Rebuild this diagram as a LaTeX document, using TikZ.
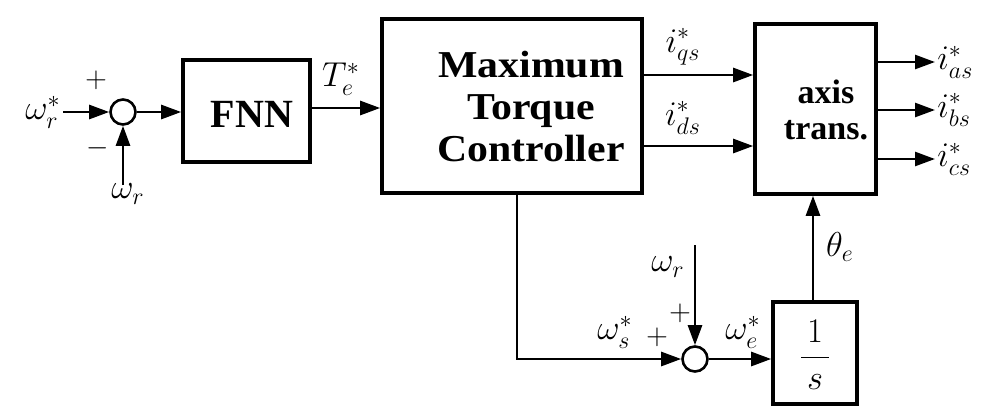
\documentclass[tikz,border=0pt]{standalone}
\usepackage{amsmath}
\usepackage{fontspec}
\setmainfont{Liberation Serif}
\usetikzlibrary{arrows.meta,positioning,calc}
\tikzset{
  blk/.style={draw,line width=1.8pt,inner sep=0pt},
  summ/.style={circle,draw,line width=1.3pt,minimum size=12.5pt,inner sep=0pt},
  sig/.style={line width=1.3pt,-{Triangle[length=10pt,width=7pt]}},
  lab/.style={inner sep=1pt,font=\LARGE},
  sgn/.style={inner sep=0pt,font=\Large},
  bigtxt/.style={font=\bfseries\fontsize{19}{21}\selectfont,align=center},
}

\begin{document}
\begin{tikzpicture}[x=0.5pt,y=-0.5pt]
  \useasboundingbox (0,0) rectangle (998,409);
  % blocks
  \node[summ] (s1) at (123,112) {};
  \node[blk,minimum width=63.5pt,minimum height=51pt] (fnn) at (246.5,111) {};
  \node[bigtxt,font=\bfseries\fontsize{20}{22}\selectfont] (fnnt) at (252,114) {FNN};
  \node[blk,minimum width=130pt,minimum height=87pt] (mtc) at (512,106) {};
  \node[bigtxt,xscale=1.1] (mtct) at (531,106) {Maximum\\Torque\\Controller};
  \node[blk,minimum width=60.5pt,minimum height=85pt] (axis) at (815.5,109) {};
  \node[bigtxt,font=\bfseries\fontsize{17}{18}\selectfont] (axist) at (826,110) {axis\\trans.};
  \node[blk,minimum width=42pt,minimum height=51pt] (integ) at (815,353) {};
  \node[font=\LARGE] (integt) at (815,355) {$\dfrac{\,1\,}{\,s\,}$};
  \node[summ] (s2) at (695,359) {};
  % free ends
  \coordinate (in) at (63,112);
  \coordinate (fb) at (123,185);
  \coordinate (ty) at (350,108);
  \coordinate (qy) at (700,75);
  \coordinate (dy) at (700,146);
  \coordinate (ia) at (935,62);
  \coordinate (ib) at (935,110);
  \coordinate (ic) at (935,159);
  \coordinate (wr) at (695,245);
  \coordinate (th) at (813,250);
  % connectors
  \draw[sig] (in) -- (s1.west);
  \draw[sig] (fb) -- (s1.south);
  \draw[sig] (s1) -- (fnn.west |- s1);
  \draw[sig] (fnn.east |- ty) -- (mtc.west |- ty);
  \draw[sig] (mtc.east |- qy) -- (axis.west |- qy);
  \draw[sig] (mtc.east |- dy) -- (axis.west |- dy);
  \draw[sig] (axis.east |- ia) -- (ia);
  \draw[sig] (axis.east |- ib) -- (ib);
  \draw[sig] (axis.east |- ic) -- (ic);
  \draw[sig] ($(mtc.south)+(5,0)$) |- (s2.west);
  \draw[sig] (wr) -- (s2.north);
  \draw[sig] (s2) -- (integ.west |- s2);
  \draw[sig] (integ.north -| th) -- (axis.south -| th);
  % labels
  \node[lab,left] (l1) at (in) {$\omega_r^*$};
  \node[lab] (l2) at (128,194) {$\omega_r$};
  \node[sgn] (p1) at (96,80) {$+$};
  \node[sgn] (m1) at (98,148) {$-$};
  \node[lab] (l3) at (341,79) {$T_e^*$};
  \node[lab] (l4) at (683,47) {$i_{qs}^*$};
  \node[lab] (l5) at (683,118) {$i_{ds}^*$};
  \node[lab,right] (l6) at (ia) {$i_{as}^*$};
  \node[lab,right] (l7) at (ib) {$i_{bs}^*$};
  \node[lab,right] (l8) at (ic) {$i_{cs}^*$};
  \node[lab] (l9) at (840,247) {$\theta_e$};
  \node[lab] (l10) at (668,267) {$\omega_r$};
  \node[sgn] (p2) at (680,313) {$+$};
  \node[lab] (l11) at (615,332) {$\omega_s^*$};
  \node[sgn] (p3) at (657,337) {$+$};
  \node[lab] (l12) at (743,332) {$\omega_e^*$};
\end{tikzpicture}
\end{document}
